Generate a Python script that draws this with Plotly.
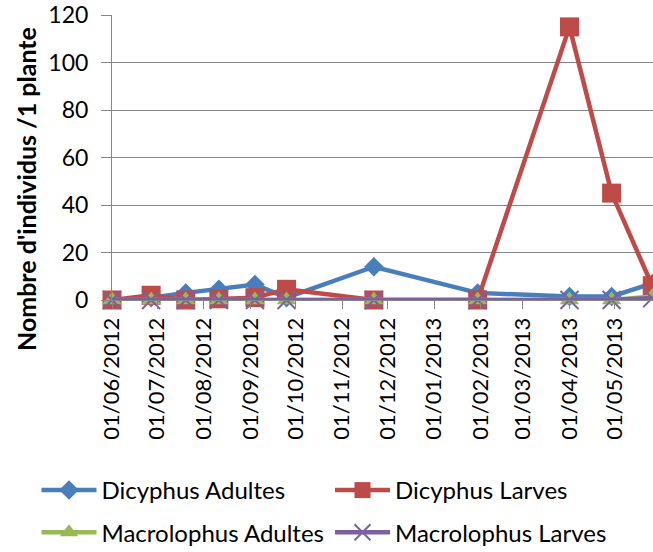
import plotly.graph_objects as go

dates = ["2012-06-01", "2012-06-27", "2012-07-20", "2012-08-11", "2012-09-04",
         "2012-09-25", "2012-11-22", "2013-01-30", "2013-04-01", "2013-04-29",
         "2013-05-26"]
dicyphus_adultes = [0, 1, 3, 4.5, 6.5, 1, 14, 3, 1.5, 1.5, 7]
dicyphus_larves = [0, 2, 0, 0.5, 1, 4.5, 0, 0, 115, 45, 6]
macrolophus_adultes = [0, 0, 0, 0, 0, 0, 0, 0, 0, 0, 1.5]
macrolophus_larves = [0, 0, 0, 0, 0, 0, 0, 0, 0, 0, 0.8]

y_ticks = [0, 20, 40, 60, 80, 100, 120]

FONT = "Lato"
fig = go.Figure()
fig.add_trace(go.Scatter(x=dates, y=dicyphus_adultes, name="Dicyphus Adultes",
                         mode="lines+markers", cliponaxis=False,
                         legend="legend", legendgroup="a",
                         line=dict(color="#4A7EBB", width=4.5),
                         marker=dict(symbol="diamond", size=15, color="#4A7EBB")))
fig.add_trace(go.Scatter(x=dates, y=dicyphus_larves, name="Dicyphus Larves",
                         mode="lines+markers", cliponaxis=False,
                         legend="legend2", legendgroup="b",
                         line=dict(color="#BE4B48", width=4.5),
                         marker=dict(symbol="square", size=19, color="#BE4B48")))
fig.add_trace(go.Scatter(x=dates, y=macrolophus_adultes, name="Macrolophus Adultes",
                         mode="lines+markers", cliponaxis=False,
                         legend="legend", legendgroup="c",
                         line=dict(color="#98B954", width=4.5),
                         marker=dict(symbol="triangle-up", size=17, color="#98B954")))
fig.add_trace(go.Scatter(x=dates, y=macrolophus_larves, name="Macrolophus Larves",
                         mode="lines+markers", cliponaxis=False,
                         legend="legend2", legendgroup="d",
                         line=dict(color="#7D60A0", width=4.5),
                         marker=dict(symbol="x-thin", size=18,
                                     line=dict(color="#7D60A0", width=2))))

leg_common = dict(orientation="v", yanchor="top", xanchor="left", itemwidth=55,
                  tracegroupgap=8, bgcolor="rgba(0,0,0,0)",
                  font=dict(family=FONT, size=24, color="black"))

fig.update_layout(
    width=653, height=552,
    margin=dict(l=112, r=0, t=15, b=252, autoexpand=False),
    paper_bgcolor="white", plot_bgcolor="white",
    font=dict(family=FONT, size=23, color="black"),
    showlegend=True,
    legend=dict(x=(36.5 - 112) / 541, y=(300 - 468) / 285, **leg_common),
    legend2=dict(x=(330 - 112) / 541, y=(300 - 468) / 285, **leg_common),
    xaxis=dict(type="date", range=["2012-06-01", "2013-05-26 12:00"],
               tick0="2012-06-01", dtick="M1", tickformat="%d/%m/%Y",
               tickangle=-90, ticks="outside", ticklen=8, tickcolor="#868686",
               showline=True, linecolor="#868686", linewidth=1,
               showgrid=False, zeroline=False, automargin=False,
               tickfont=dict(family=FONT, size=22, color="black")),
    yaxis=dict(range=[0, 120], tickvals=y_ticks, ticks="outside", ticklen=10,
               tickcolor="#868686", showline=True, linecolor="#868686",
               showgrid=True, gridcolor="#868686", gridwidth=1, zeroline=False,
               ticklabelstandoff=8, automargin=False,
               tickfont=dict(family=FONT, size=23, color="black")),
)

fig.add_annotation(text="<b>Nombre d'individus /1 plante</b>", textangle=-90,
                   xref="paper", yref="paper", x=(26 - 112) / 541, y=(300 - 189) / 285,
                   xanchor="center", yanchor="middle", showarrow=False,
                   font=dict(family=FONT, size=25, color="black"))

fig.write_html("out.html", config={"displayModeBar": False},
               post_script="document.body.style.margin='0px';")
